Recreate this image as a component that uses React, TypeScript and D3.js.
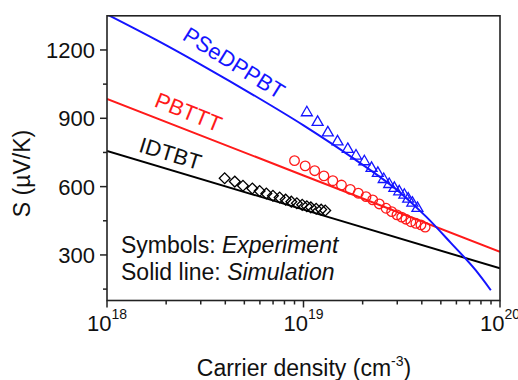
import * as d3 from "d3";

// carrier density (cm^-3) and Seebeck coefficient (µV/K)
const blueLineN = [1e18, 1.78e18, 3.16e18, 5.62e18, 1e19, 1.78e19, 3.16e19, 4.22e19, 5.62e19, 7.5e19, 8.98e19];
const blueLineS = [1356, 1244, 1125, 1000, 869, 726, 568, 467, 353, 234, 145];
const redLineN = [1e18, 1e19, 1e20];
const redLineS = [985, 649, 314];
const blackLineN = [1e18, 1e19, 1e20];
const blackLineS = [757, 499, 241];

const blueExpN = [1.04e19, 1.18e19, 1.33e19, 1.49e19, 1.68e19, 1.85e19, 2.04e19, 2.22e19, 2.39e19, 2.56e19, 2.73e19, 2.9e19, 3.07e19, 3.26e19, 3.41e19, 3.58e19, 3.8e19];
const blueExpS = [925, 883, 837, 797, 764, 735, 710, 681, 659, 632, 610, 593, 578, 563, 546, 528, 505];
const redExpN = [9.0e18, 1.02e19, 1.14e19, 1.27e19, 1.41e19, 1.56e19, 1.73e19, 1.9e19, 2.08e19, 2.25e19, 2.43e19, 2.63e19, 2.81e19, 2.99e19, 3.16e19, 3.32e19, 3.52e19, 3.73e19, 3.96e19, 4.16e19];
const redExpS = [714, 691, 670, 647, 626, 607, 588, 571, 556, 542, 524, 505, 490, 476, 466, 457, 446, 439, 432, 422];
const blackExpN = [3.97e18, 4.47e18, 4.92e18, 5.49e18, 5.98e18, 6.47e18, 6.99e18, 7.56e18, 8.11e18, 8.67e18, 9.25e18, 9.85e18, 1.04e19, 1.09e19, 1.16e19, 1.23e19, 1.29e19];
const blackExpS = [637, 622, 604, 592, 581, 570, 560, 552, 543, 534, 527, 520, 514, 509, 503, 499, 495];

const yTicks = [300, 600, 900, 1200];
const yMinor = [150, 450, 750, 1050];
const xDecades = [18, 19, 20];

const width = 518;
const height = 380;
const font = "'Liberation Sans', Arial, sans-serif";
const BLUE = "#1414ff";
const RED = "#ff1a1a";

export default function App() {
  const x = d3.scaleLog().domain([1e18, 1e20]).range([107, 500]);
  const y = d3.scaleLinear().domain([100, 1350]).range([300.5, 15.8]);
  const [x0, x1] = x.range();
  const [y0, y1] = y.range();

  const line = (ns: number[], ss: number[], curve = d3.curveLinear) =>
    d3
      .line<number>()
      .x((_, i) => x(ns[i]))
      .y((_, i) => y(ss[i]))
      .curve(curve)(ns) || "";

  const tri = d3.symbol().type(d3.symbolTriangle).size(52)() || "";
  const sq = d3.symbol().type(d3.symbolSquare).size(58)() || "";

  const minorX: number[] = [];
  for (let d = 18; d < 20; d++) for (let k = 2; k <= 9; k++) minorX.push(k * Math.pow(10, d));

  return (
    <svg
      width={width}
      height={height}
      style={{ position: "absolute", left: 0, top: 0, background: "#fff" }}
      fontFamily={font}
    >
      <defs>
        <clipPath id="plot">
          <rect x={x0} y={y1} width={x1 - x0} height={y0 - y1} />
        </clipPath>
      </defs>

      {/* simulation lines */}
      <g clipPath="url(#plot)" fill="none" strokeWidth={2}>
        <path d={line(blackLineN, blackLineS)} stroke="#000" />
        <path d={line(redLineN, redLineS)} stroke={RED} />
        <path d={line(blueLineN, blueLineS, d3.curveMonotoneX)} stroke={BLUE} />
      </g>

      {/* experiment symbols */}
      <g fill="none" strokeWidth={1.3}>
        {blackExpN.map((n, i) => (
          <path key={"k" + i} d={sq} stroke="#000" transform={`translate(${x(n)},${y(blackExpS[i])}) rotate(45)`} />
        ))}
        {redExpN.map((n, i) => (
          <circle key={"r" + i} cx={x(n)} cy={y(redExpS[i])} r={4.8} stroke={RED} />
        ))}
        {blueExpN.map((n, i) => (
          <path key={"b" + i} d={tri} stroke={BLUE} transform={`translate(${x(n)},${y(blueExpS[i])})`} />
        ))}
      </g>

      {/* frame */}
      <rect x={x0} y={y1} width={x1 - x0} height={y0 - y1} fill="none" stroke="#222" strokeWidth={1.6} />

      {/* y axis */}
      {yTicks.map((t) => (
        <g key={t}>
          <line x1={x0 - 7} x2={x0} y1={y(t)} y2={y(t)} stroke="#222" strokeWidth={1.5} />
          <text x={95} y={y(t)} dy="0.36em" textAnchor="end" fontSize={22} fill="#111">
            {t}
          </text>
        </g>
      ))}
      {yMinor.map((t) => (
        <line key={t} x1={x0 - 4} x2={x0} y1={y(t)} y2={y(t)} stroke="#222" strokeWidth={1.5} />
      ))}

      {/* x axis */}
      {xDecades.map((d) => (
        <g key={d}>
          <line x1={x(Math.pow(10, d))} x2={x(Math.pow(10, d))} y1={y0} y2={y0 + 7} stroke="#222" strokeWidth={1.5} />
          <text x={x(Math.pow(10, d))} y={331} textAnchor="middle" fontSize={22} fill="#111">
            10
            <tspan dy={-12} fontSize={14}>
              {d}
            </tspan>
          </text>
        </g>
      ))}
      {minorX.map((n) => (
        <line key={n} x1={x(n)} x2={x(n)} y1={y0} y2={y0 + 4} stroke="#222" strokeWidth={1.5} />
      ))}

      {/* axis titles */}
      <text x={304} y={376} textAnchor="middle" fontSize={23} fill="#111">
        Carrier density (cm
        <tspan dy={-10} fontSize={14}>
          -3
        </tspan>
        <tspan dy={10}>)</tspan>
      </text>
      <text transform="translate(30,173.5) rotate(-90)" textAnchor="middle" fontSize={23} fill="#111">
        S (µV/K)
      </text>

      {/* series labels */}
      <text transform="translate(234,63) rotate(32)" textAnchor="middle" dy="0.35em" fontSize={22} fill={BLUE}>
        PSeDPPBT
      </text>
      <text transform="translate(188.5,112) rotate(22)" textAnchor="middle" dy="0.35em" fontSize={22} fill={RED}>
        PBTTT
      </text>
      <text transform="translate(170.5,153.5) rotate(17)" textAnchor="middle" dy="0.35em" fontSize={22} fill="#111">
        IDTBT
      </text>

      {/* note */}
      <text x={121} y={253} fontSize={23} fill="#111">
        Symbols: <tspan fontStyle="italic">Experiment</tspan>
      </text>
      <text x={121} y={280} fontSize={23} fill="#111">
        Solid line: <tspan fontStyle="italic">Simulation</tspan>
      </text>
    </svg>
  );
}
